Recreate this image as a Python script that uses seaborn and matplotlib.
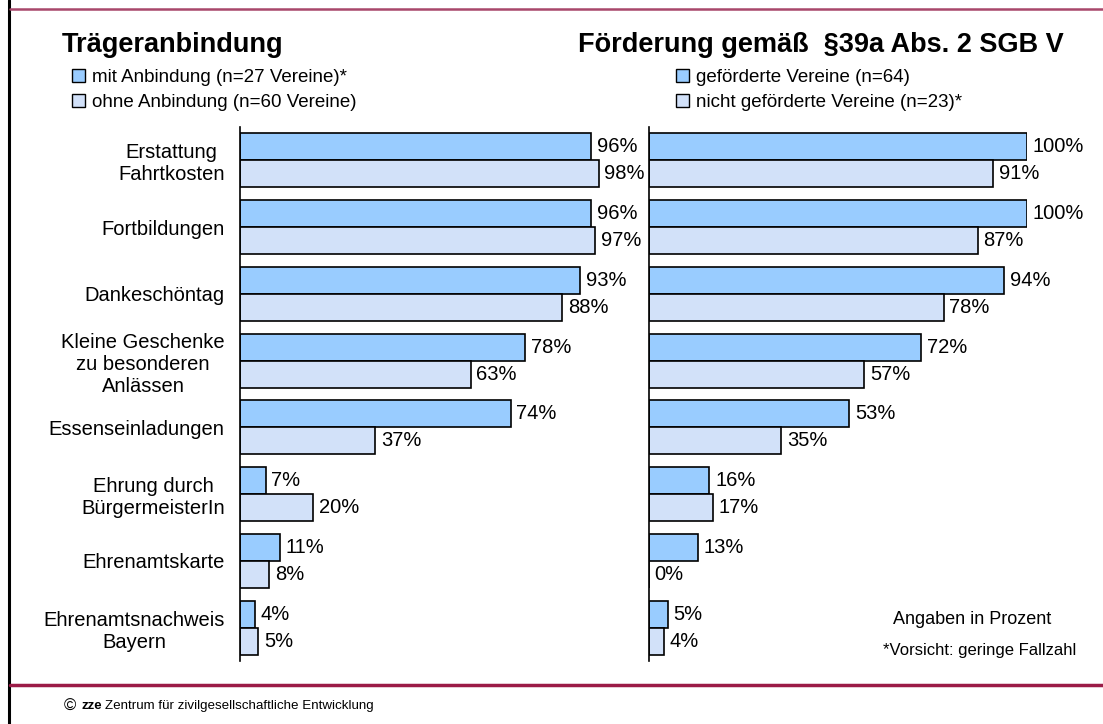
import pandas as pd
import numpy as np
import matplotlib.pyplot as plt
import seaborn as sns
from matplotlib.patches import Patch
from matplotlib.lines import Line2D

categories = ["Erstattung\nFahrtkosten", "Fortbildungen", "Dankeschöntag",
              "Kleine Geschenke\nzu besonderen\nAnlässen", "Essenseinladungen",
              "Ehrung durch\nBürgermeisterIn", "Ehrenamtskarte",
              "Ehrenamtsnachweis\nBayern"]

left_groups = ["mit Anbindung (n=27 Vereine)*", "ohne Anbindung (n=60 Vereine)"]
mit_anbindung = [96, 96, 93, 78, 74, 7, 11, 4]
ohne_anbindung = [98, 97, 88, 63, 37, 20, 8, 5]

right_groups = ["geförderte Vereine (n=64)", "nicht geförderte Vereine (n=23)*"]
gefoerdert = [100, 100, 94, 72, 53, 16, 13, 5]
nicht_gefoerdert = [91, 87, 78, 57, 35, 17, 0, 4]

colors = ["#99CCFF", "#D2E1F9"]

sns.set_style("white")
plt.rcParams['font.family'] = ['Liberation Sans', 'DejaVu Sans']
plt.rcParams['text.color'] = 'black'
plt.rcParams['axes.labelcolor'] = 'black'
plt.rcParams['ytick.color'] = 'black'


def long_table(groups, a, b):
    return pd.DataFrame({
        "Kategorie": categories * 2,
        "Gruppe": [groups[0]] * len(a) + [groups[1]] * len(b),
        "Wert": a + b,
    })


left_df = long_table(left_groups, mit_anbindung, ohne_anbindung)
right_df = long_table(right_groups, gefoerdert, nicht_gefoerdert)

fig = plt.figure(figsize=(11.03, 7.24), dpi=100)
W, H = 1103, 724

ax1 = fig.add_axes([240 / W, (H - 661) / H, 366 / W, 534 / H])
ax2 = fig.add_axes([649 / W, (H - 661) / H, 378 / W, 534 / H])

for ax, df, groups, show_labels in [(ax1, left_df, left_groups, True),
                                    (ax2, right_df, right_groups, False)]:
    sns.barplot(data=df, y="Kategorie", x="Wert", hue="Gruppe", hue_order=groups,
                palette=colors, saturation=1, orient="h", width=0.81, edgecolor="black",
                linewidth=1.2, ax=ax, legend=False)
    ax.set_xlim(0, 100)
    ax.set_ylim(len(categories) - 0.5, -0.5)
    ax.set_xlabel("")
    ax.set_ylabel("")
    ax.set_xticks([])
    for s in ["top", "right", "bottom"]:
        ax.spines[s].set_visible(False)
    ax.spines["left"].set_color("black")
    ax.spines["left"].set_linewidth(1.2)
    ax.set_yticks(np.arange(-0.5, len(categories), 1.0), minor=True)
    ax.tick_params(axis="y", which="minor", length=5, width=1.2, direction="out", color="black")
    ax.tick_params(axis="y", which="major", length=0, pad=11)
    if show_labels:
        ax.set_yticklabels(categories, fontsize=14.5, multialignment="center", color="black")
    else:
        ax.set_yticklabels([])
    for cont in ax.containers:
        ax.bar_label(cont, fmt="{:.0f}%", padding=4, fontsize=14.5, color="black")
    ax.set_facecolor("white")

# titles
fig.text(62 / W, 1 - 45 / H, "Trägeranbindung", fontsize=19.5, fontweight="bold", va="center")
fig.text(578 / W, 1 - 45 / H, "Förderung gemäß  §39a Abs. 2 SGB V", fontsize=19.5,
         fontweight="bold", va="center")

# legends
handles_l = [Patch(facecolor=c, edgecolor="black", linewidth=1) for c in colors]
leg_kw = dict(loc="upper left", frameon=False, fontsize=13.5, handlelength=0.7,
              handleheight=0.7, handletextpad=0.35, labelspacing=0.4, borderpad=0,
              borderaxespad=0)
fig.legend(handles_l, left_groups, bbox_to_anchor=(72 / W, 1 - 69 / H), **leg_kw)
fig.legend(handles_l, right_groups, bbox_to_anchor=(676 / W, 1 - 69 / H), **leg_kw)

# notes
fig.text(972 / W, 1 - 620 / H, "Angaben in Prozent", fontsize=13, ha="center", va="center")
fig.text(980 / W, 1 - 651 / H, "*Vorsicht: geringe Fallzahl", fontsize=12, ha="center", va="center")

# footer
fig.text(64 / W, 1 - 706 / H, "©", fontsize=12, va="center")
fig.text(81 / W, 1 - 706 / H, "zze", fontsize=9.6, fontweight="bold", va="center")
fig.text(105 / W, 1 - 706 / H, "Zentrum für zivilgesellschaftliche Entwicklung", fontsize=9.6, va="center")

# frame lines
fig.add_artist(Line2D([9 / W, 9 / W], [0, 1], color="black", linewidth=2.2))
fig.add_artist(Line2D([10 / W, 1], [1 - 9 / H, 1 - 9 / H], color="#A8476B", linewidth=1.8))
fig.add_artist(Line2D([10 / W, 1], [1 - 685 / H, 1 - 685 / H], color="#9B1B47", linewidth=2.5))

fig.savefig("out.png", dpi=100, facecolor="white")
